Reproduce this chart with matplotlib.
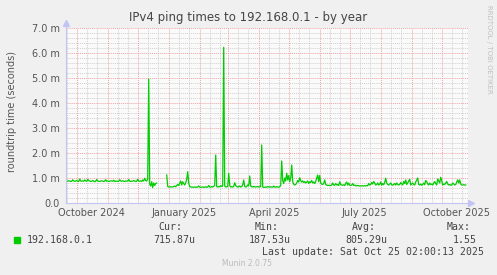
"""
Munin-style yearly ping chart (rrdtool look) drawn with matplotlib.
"""

import matplotlib
matplotlib.use("Agg")  # no GUI backend
import matplotlib.pyplot as plt
import numpy as np
import pandas as pd

TITLE = "IPv4 ping times to 192.168.0.1 - by year"
Y_LABEL = "roundtrip time (seconds)"
HOST = "192.168.0.1"
FIRST_DAY = "2024-09-21"
nan = np.nan

# daily roundtrip time in ms, one value per day from FIRST_DAY (nan = no data)
ping_ms = [
    0.88, 0.87, 0.89, 0.88, 0.86, 0.87, 0.93, 0.88, 0.87, 0.88,  # late Sep
    0.90, 0.87, 0.86, 0.96, 0.88, 0.87, 0.89, 0.87, 0.92, 0.88,  # Oct
    0.87, 0.95, 0.89, 0.88, 0.86, 0.87, 0.90, 0.88, 0.85, 0.87,
    0.94, 0.88, 0.87, 0.86, 0.88, 0.89, 0.87, 0.86, 0.88, 0.93,
    0.87, 0.88, 0.86, 0.87, 0.89, 0.88, 0.87, 0.91, 0.86, 0.87,  # Nov
    0.88, 0.86, 0.87, 0.93, 0.88, 0.87, 0.89, 0.87, 0.86, 0.88,
    0.87, 0.88, 0.94, 0.87, 0.86, 0.88, 0.87, 0.90, 0.88, 0.86,
    0.87, 0.95, 0.88, 0.87, 0.89, 0.86, 0.92, 0.88, 0.99, 0.90,  # Dec
    0.88, 0.95, 4.96, 0.75, 0.68, 0.85, 0.62, 0.80, 0.70, 0.78,
    0.80, nan, nan, nan, nan, nan, nan, nan, nan, nan,
    1.12, 0.66, 0.64, 0.64, 0.65, 0.64, 0.64, 0.66, 0.68, 0.65,  # Jan
    0.70, 0.74, 0.70, 0.79, 0.88, 0.72, 0.85, 0.78, 0.72, 0.80,
    0.95, 1.25, 0.80, 0.66, 0.64, 0.64, 0.63, 0.63, 0.64, 0.63,
    0.63, 0.64, 0.68, 0.64, 0.63, 0.63, 0.64, 0.63, 0.63, 0.65,  # Feb
    0.63, 0.64, 0.70, 0.64, 0.63, 0.66, 0.64, 0.67, 0.70, 1.92,
    0.66, 0.64, 0.66, 0.65, 0.70, 0.66, 0.68, 6.23, 0.68, 0.64,
    0.65, 0.66, 1.19, 0.70, 0.64, 0.65, 0.64, 0.66, 0.81, 0.70,  # Mar
    0.66, 0.64, 0.65, 0.68, 0.64, 0.66, 0.72, 0.92, 0.66, 0.64,
    0.65, 0.72, 0.68, 1.08, 0.68, 0.65, 0.64, 0.66, 0.65, 0.64,
    0.65, 0.66, 0.64, 0.65, 0.66, 2.32, 0.64, 0.63, 0.63, 0.64,  # Apr
    0.63, 0.66, 0.64, 0.63, 0.65, 0.64, 0.63, 0.68, 0.64, 0.63,
    0.66, 0.64, 0.63, 0.65, 0.70, 1.68, 0.90, 0.78, 1.00, 0.88,
    1.19, 0.92, 1.10, 0.85, 1.00, 1.52, 0.85, 0.75, 0.72, 0.74,  # May
    0.80, 0.90, 0.84, 1.01, 0.90, 0.84, 0.88, 0.82, 0.86, 0.80,
    0.84, 0.88, 0.78, 0.85, 0.82, 0.90, 0.80, 0.84, 0.78, 0.86,
    1.00, 1.12, 0.85, 1.10, 0.80, 0.76, 0.74, 0.78, 0.92, 0.74,  # Jun
    0.72, 0.70, 0.71, 0.70, 0.70, 0.72, 0.80, 0.72, 0.71, 0.78,
    0.72, 0.74, 0.70, 0.85, 0.74, 0.72, 0.71, 0.73, 0.70, 0.79,
    0.84, 0.72, 0.80, 0.71, 0.70, 0.72, 0.78, 0.70, 0.72, 0.69,  # Jul
    0.69, 0.70, 0.69, 0.68, 0.69, 0.68, 0.69, 0.68, 0.69, 0.68,
    0.70, 0.69, 0.78, 0.72, 0.74, 0.82, 0.76, 0.86, 0.80, 0.72,
    0.74, 0.80, 0.72, 0.75, 0.84, 0.71, 0.78, 0.73, 0.82, 0.99,  # Aug
    0.80, 0.74, 0.72, 0.76, 0.80, 0.73, 0.71, 0.74, 0.78, 0.72,
    0.80, 0.74, 0.72, 0.74, 0.82, 0.76, 0.72, 0.86, 0.78, 0.92,
    0.74, 0.80, 0.88, 0.95, 0.72, 0.76, 0.80, 0.74, 0.72, 0.84,  # Sep
    0.92, 1.00, 0.74, 0.72, 0.76, 0.71, 0.74, 0.80, 0.73, 0.90,
    0.86, 0.76, 0.72, 0.80, 0.74, 0.76, 0.72, 0.80, 0.86, 0.78,
    0.72, 0.96, 0.88, 0.80, 1.03, 0.90, 0.72, 0.76, 0.74, 0.80,  # Oct
    0.86, 0.76, 0.72, 0.74, 0.71, 0.72, 0.80, 0.76, 0.72, 0.74,
    0.84, 0.92, 0.80, 0.92, 0.76, 0.72, 0.72, 0.73, 0.72, 0.72,
]

Y_TICKS = [0, 1, 2, 3, 4, 5, 6, 7]
Y_TICK_LABELS = ["0.0", "1.0 m", "2.0 m", "3.0 m", "4.0 m", "5.0 m", "6.0 m", "7.0 m"]
X_LABEL_DATES = ["2024-10-16", "2025-01-16", "2025-04-16", "2025-07-16", "2025-10-16"]
X_LABELS = ["October 2024", "January 2025", "April 2025", "July 2025", "October 2025"]

STAT_NAMES = ["Cur:", "Min:", "Avg:", "Max:"]
STAT_VALUES = ["715.87u", "187.53u", "805.29u", "1.55"]
LAST_UPDATE = "Last update: Sat Oct 25 02:00:13 2025"
VERSION = "Munin 2.0.75"
WATERMARK = "RRDTOOL / TOBI OETIKER"

# colours
BACK = "#F0F0F0"
LINE = "#00CC00"
MGRID = "#EFA4A4"
GRID = "#D0D0D0"
AXIS = "#C4C4F4"
FONT = "#555555"

W, H = 497, 275
fig = plt.figure(figsize=(W / 100, H / 100), dpi=100, facecolor=BACK)
ax = fig.add_axes([66 / W, 1 - 203 / H, 402 / W, 175 / H])
ax.set_facecolor("#FAFAFA")

days = pd.date_range(FIRST_DAY, periods=len(ping_ms), freq="D")
t0 = days[0] - pd.Timedelta(hours=17)
t1 = days[-1] + pd.Timedelta(hours=55)
ax.set_xlim(t0, t1)
ax.set_ylim(0, 7)

# grid: minor every 0.2 m / 10 days, major every 1 m / month
dot = (0, (1, 1))
for v in np.arange(0.2, 7.0, 0.2):
    if abs(v - round(v)) > 0.05:
        ax.axhline(v, color=GRID, lw=0.7, ls=dot, zorder=1)
for m in pd.date_range("2024-09-01", "2025-10-01", freq="MS"):
    for d in (10, 20):
        t = m + pd.Timedelta(days=d)
        if t0 < t < t1:
            ax.axvline(t, color=GRID, lw=0.7, ls=dot, zorder=1)
for v in Y_TICKS[1:]:
    ax.axhline(v, color=MGRID, lw=0.7, ls=dot, zorder=2)
for m in pd.date_range("2024-10-01", "2025-10-01", freq="MS"):
    ax.axvline(m, color=MGRID, lw=0.7, ls=dot, zorder=2)

ax.plot(days, ping_ms, color=LINE, lw=0.9, zorder=3)

for s in ax.spines.values():
    s.set_visible(False)

# rrdtool style axes with small arrow heads
ax.plot([0, 1.006], [0, 0], transform=ax.transAxes, color=AXIS, lw=0.8,
        clip_on=False, zorder=4)
ax.plot([0, 0], [0, 1.03], transform=ax.transAxes, color=AXIS, lw=0.8,
        clip_on=False, zorder=4)
ax.plot([1.008], [0], transform=ax.transAxes, marker=">", ms=4, color=AXIS,
        clip_on=False, zorder=4)
ax.plot([0], [1.03], transform=ax.transAxes, marker="^", ms=4, color=AXIS,
        clip_on=False, zorder=4)

ax.set_yticks(Y_TICKS)
ax.set_yticklabels(Y_TICK_LABELS)
ax.set_xticks(pd.to_datetime(X_LABEL_DATES))
ax.set_xticklabels(X_LABELS)
ax.tick_params(axis="y", length=0, pad=4.5, labelsize=7, labelcolor=FONT)
ax.tick_params(axis="x", length=0, pad=3.5, labelsize=7, labelcolor=FONT)

fig.text(248 / W, 1 - 18 / H, TITLE, ha="center", va="center",
         fontsize=8.5, color="#444444")
fig.text(12 / W, 1 - 112 / H, Y_LABEL, ha="center", va="center",
         rotation=90, fontsize=7, color=FONT)
fig.text(489 / W, 1 - 5 / H, WATERMARK, ha="center", va="top",
         rotation=270, fontsize=5, color="#C0C0C0")

# legend block
mono = "DejaVu Sans Mono"
fig.patches.append(plt.Rectangle((14 / W, 1 - 243 / H), 6 / W, 6 / H,
                                 transform=fig.transFigure, color=LINE))
fig.text(27 / W, 1 - 240 / H, HOST, family=mono, fontsize=7.1,
         color="#444444", va="center")
name_x = [158, 255, 352, 447]
value_x = [153, 249, 345, 453]
for nx, vx, n, v in zip(name_x, value_x, STAT_NAMES, STAT_VALUES):
    fig.text(nx / W, 1 - 227.5 / H, n, family=mono, fontsize=7.1,
             color="#444444", va="center")
    fig.text(vx / W, 1 - 240 / H, v, family=mono, fontsize=7.1,
             color="#444444", va="center")
fig.text(262 / W, 1 - 252 / H, LAST_UPDATE, family=mono, fontsize=7.1,
         color="#444444", va="center")
fig.text(247.5 / W, 1 - 264 / H, VERSION, ha="center", va="center",
         fontsize=5.5, color="#BBBBBB")

fig.savefig("out.png", dpi=100, facecolor=BACK)
